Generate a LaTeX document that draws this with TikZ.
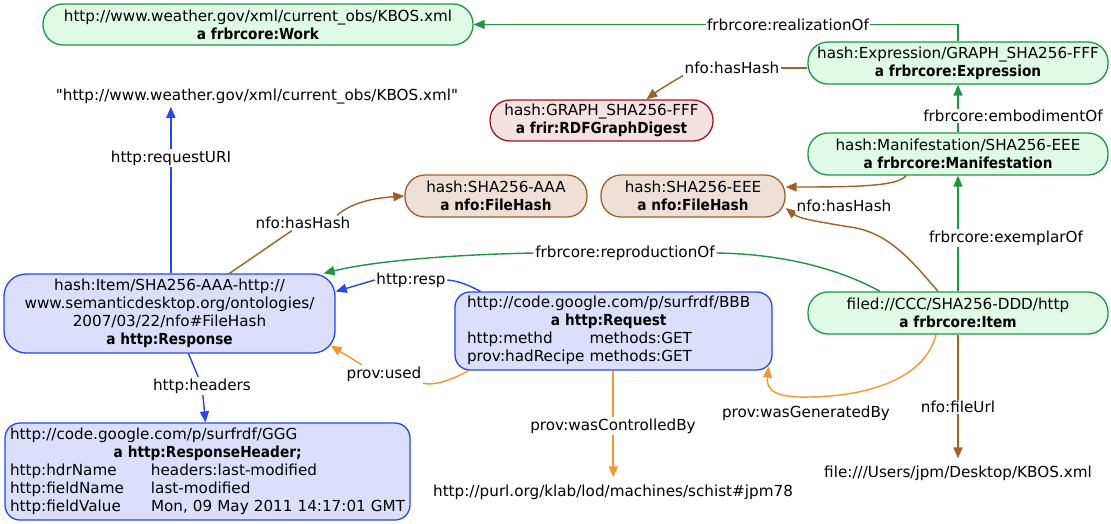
\documentclass[tikz,border=0pt]{standalone}
\usepackage{fontspec}
\setmainfont{DejaVu Sans}[Ligatures=TeXOff,BoldFeatures={FakeStretch=0.9}]
\usetikzlibrary{arrows.meta,backgrounds}
\definecolor{gfill}{HTML}{E0FAE8}
\definecolor{gline}{HTML}{1E9640}
\definecolor{bfill}{HTML}{DCDFFB}
\definecolor{bline}{HTML}{2846F0}
\definecolor{nfill}{HTML}{EEE0D6}
\definecolor{nline}{HTML}{A0602A}
\definecolor{rfill}{HTML}{F5E1E1}
\definecolor{rline}{HTML}{A01818}
\definecolor{oline}{HTML}{F7962F}
\tikzset{
  base/.style={font=\fontsize{15.2}{18}\selectfont},
  box/.style={base, draw, line width=1.3pt, rectangle, inner sep=0pt, align=center},
  greenbox/.style={box, draw=gline, fill=gfill, rounded corners=20pt, minimum width=300pt, minimum height=42pt},
  hashbox/.style={box, draw=nline, fill=nfill, rounded corners=20pt, minimum height=42pt},
  redbox/.style={box, draw=rline, fill=rfill, rounded corners=20pt},
  bluebox/.style={box, draw=bline, fill=bfill},
  lbl/.style={base, fill=white, inner sep=1.5pt},
  lit/.style={base, inner xsep=2pt, inner ysep=7pt},
  seg/.style={line width=1.4pt},
  arr/.style={line width=1.4pt, -{Triangle[length=11pt,width=9pt]}},
}
\begin{document}
\begin{tikzpicture}[x=1pt,y=-1pt]
\useasboundingbox (0,0) rectangle (1111,523);

% ---------- nodes ----------
\node[greenbox, minimum width=430pt, minimum height=41pt] (work) at (258,24.5)
  {http://www.weather.gov/xml/current\_obs/KBOS.xml\\\textbf{a frbrcore:Work}};
\node[greenbox] (expr) at (958,63)
  {hash:Expression/GRAPH\_SHA256-FFF\\\textbf{a frbrcore:Expression}};
\node[greenbox] (manif) at (958,154)
  {hash:Manifestation/SHA256-EEE\\\textbf{a frbrcore:Manifestation}};
\node[greenbox] (item) at (958,313)
  {filed://CCC/SHA256-DDD/http\\\textbf{a frbrcore:Item}};
\node[redbox, minimum width=223pt, minimum height=41pt] (graph) at (601.5,120.5)
  {hash:GRAPH\_SHA256-FFF\\\textbf{a frir:RDFGraphDigest}};
\node[hashbox, minimum width=182pt] (aaa) at (496,196)
  {hash:SHA256-AAA\\\textbf{a nfo:FileHash}};
\node[hashbox, minimum width=184pt] (eee) at (693,196)
  {hash:SHA256-EEE\\\textbf{a nfo:FileHash}};
\node[bluebox, rounded corners=22pt, minimum width=331pt, minimum height=79pt] (resp) at (169.5,313.5)
  {hash:Item/SHA256-AAA-http://\\www.semanticdesktop.org/ontologies/\\2007/03/22/nfo\#FileHash\\\textbf{a http:Response}};
\node[bluebox, rounded corners=15pt, text width=293pt, inner xsep=12pt, minimum height=78pt, align=left] (req) at (613.5,331)
  {\begin{tabular}{@{}l@{\hspace{5pt}}l@{}}
   \multicolumn{2}{@{}c@{}}{http://code.google.com/p/surfrdf/BBB}\\
   \multicolumn{2}{@{}c@{}}{\textbf{a http:Request}}\\
   http:methd & methods:GET\\
   prov:hadRecipe & methods:GET
   \end{tabular}};
\node[bluebox, rounded corners=15pt, text width=395pt, inner xsep=5pt, minimum height=97pt, align=left] (header) at (207.5,471.5)
  {\begin{tabular}{@{}p{141pt}@{}l@{}}
   \multicolumn{2}{@{}l@{}}{http://code.google.com/p/surfrdf/GGG}\\
   \multicolumn{2}{@{}c@{}}{\textbf{a http:ResponseHeader;}}\\
   http:hdrName & headers:last-modified\\
   http:fieldName & last-modified\\
   http:fieldValue & Mon, 09 May 2011 14:17:01 GMT
   \end{tabular}};

% literals
\node[lit, inner ysep=2pt] (litURI) at (257,97) {"http://www.weather.gov/xml/current\_obs/KBOS.xml"};
\node[lit] (litAgent) at (613,492) {http://purl.org/klab/lod/machines/schist\#jpm78};
\node[lit] (litFile) at (958,473) {file:///Users/jpm/Desktop/KBOS.xml};

% edge labels
\node[lbl] (lRealiz) at (788,24.5) {frbrcore:realizationOf};
\node[lbl] (lHash1) at (732,68) {nfo:hasHash};
\node[lbl] (lEmbod) at (1013,116) {frbrcore:embodimentOf};
\node[lbl] (lExempl) at (1006,238) {frbrcore:exemplarOf};
\node[lbl] (lHash2) at (844,206) {nfo:hasHash};
\node[lbl] (lRepro) at (625,253) {frbrcore:reproductionOf};
\node[lbl] (lHash3) at (303,223) {nfo:hasHash};
\node[lbl] (lReqURI) at (171,158) {http:requestURI};
\node[lbl] (lResp) at (411,280) {http:resp};
\node[lbl] (lUsed) at (384,374) {prov:used};
\node[lbl] (lHeaders) at (202,386) {http:headers};
\node[lbl] (lCtrl) at (613,426) {prov:wasControlledBy};
\node[lbl] (lGen) at (806,413) {prov:wasGeneratedBy};
\node[lbl] (lFileUrl) at (958,407) {nfo:fileUrl};

% ---------- edges (behind labels) ----------
\begin{pgfonlayer}{background}
\fill[white] (0,0) rectangle (1111,523);
% green
\draw[arr, gline] (expr.north) |- (work.east);
\draw[arr, gline] (manif.north) -- (expr.south);
\draw[arr, gline] (item.north) -- (manif.south);
\draw[seg, gline] ([xshift=-78pt]item.north) .. controls (845,272) and (790,254) .. (lRepro.east);
\draw[arr, gline] (lRepro.west) .. controls (440,255) and (370,262) .. ([xshift=-12pt]resp.north east);
% brown
\draw[seg, nline] ([yshift=-5pt]expr.west) -- (lHash1);
\draw[arr, nline] (lHash1.south west) .. controls (670,83) and (656,92) .. ([xshift=45pt]graph.north);
\draw[arr, nline] ([xshift=-52pt]manif.south) .. controls (898,186) and (860,187) .. ([yshift=9pt]eee.east);
\draw[arr, nline] ([xshift=-20pt]item.north) .. controls (915,265) and (890,232) .. (850,227)
   .. controls (820,222) and (800,219) .. ([yshift=-12pt]eee.east);
\draw[seg, nline] ([xshift=60pt]resp.north) -- (lHash3);
\draw[arr, nline] ([xshift=-15pt]lHash3.north east) .. controls (352,202) and (375,198) .. (aaa.west);
\draw[arr, nline] (item.south) -- (item.south |- litFile.north);
% blue
\draw[arr, bline, line width=1.6pt] ([xshift=1.37pt]resp.north) -- ([xshift=1.37pt]resp.north |- litURI.south);
\draw[seg, bline] ([xshift=-133pt]req.north) .. controls (470,286) and (460,281) .. (lResp.east);
\draw[arr, bline] (lResp.west) -- ([yshift=22pt]resp.east);
\draw[seg, bline] ([xshift=19pt]resp.south) -- (lHeaders);
\draw[arr, bline] (lHeaders) -- ([xshift=-2pt]header.north);
% orange
\draw[seg, oline] ([xshift=-145pt]req.south) .. controls (450,381) and (432,386) .. (lUsed.south east);
\draw[arr, oline] ([xshift=-22pt]lUsed.north) -- ([xshift=-5pt,yshift=-32pt]resp.east);
\draw[arr, oline, line width=1.6pt] ([xshift=-0.26pt]req.south) -- ([xshift=-0.26pt]req.south |- litAgent.north);
\draw[arr, oline] ([xshift=-22pt]item.south) .. controls (925,378) and (870,396) .. (810,397)
   .. controls (775,398) and (766,390) .. ([xshift=-4pt,yshift=4pt]req.south east);
\end{pgfonlayer}
\end{tikzpicture}
\end{document}
